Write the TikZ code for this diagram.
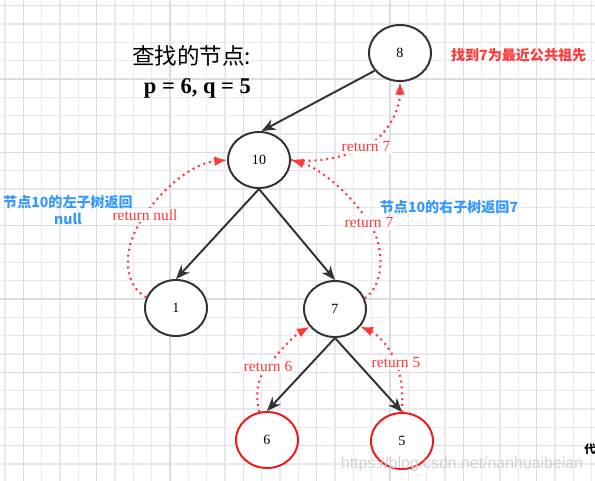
\documentclass[tikz,border=0pt]{standalone}
\usepackage{fontspec}
\setmainfont{Liberation Serif}
\setsansfont{Liberation Sans}
\newfontfamily\cjk{Noto Sans CJK SC}
\usetikzlibrary{arrows.meta, shapes.geometric}

\definecolor{linegray}{HTML}{333333}
\definecolor{retred}{HTML}{FF3838}
\definecolor{hitred}{HTML}{F21818}
\definecolor{noteblue}{HTML}{3399FF}
\definecolor{gridminor}{HTML}{E8E8EE}
\definecolor{gridmajor}{HTML}{DCDCE3}
\definecolor{markgray}{HTML}{D2D2D2}

\begin{document}
\begin{tikzpicture}[
            x = 0.025cm, y = -0.025cm, % one unit = one pixel of the sketch
            > = {Stealth[length=10pt,width=8pt]}, % arrow head style
            semithick % line style
        ]

        \tikzstyle{treenode}=[
            ellipse,
            draw = linegray,
            line width = 1.4pt,
            fill = white,
            minimum width = 1.55cm,
            minimum height = 1.4cm,
            font = \fontsize{10}{12}\selectfont
        ]
        \tikzstyle{found}=[treenode, draw = hitred]
        \tikzstyle{child}=[->, draw = linegray, line width = 1.4pt]
        \tikzstyle{ret}=[
            -{Latex[length=9pt,width=7pt]},
            draw = retred,
            line width = 1.5pt,
            dash pattern = on 1.4pt off 2.8pt
        ]
        \tikzstyle{retlabel}=[fill = white, text = retred, inner sep = 1pt, font = \fontsize{11}{13}\selectfont]
        \tikzstyle{note}=[text = noteblue, align = center, font = \cjk\bfseries\fontsize{10}{12}\selectfont]

        % paper and grid
        \useasboundingbox[fill = white] (0,0) rectangle (595,481);
        \foreach \i in {0,...,32} \draw[gridminor, line width = 0.75pt] ({5+18.333*\i},0) -- ++(0,481);
        \foreach \i in {0,...,26} \draw[gridminor, line width = 0.75pt] (0,{5.67+18.333*\i}) -- ++(595,0);
        \foreach \i in {0,...,7} \draw[gridmajor, line width = 1pt] ({23.33+73.33*\i},0) -- ++(0,481);
        \foreach \i in {0,...,6} \draw[gridmajor, line width = 1pt] (0,{5.67+73.33*\i}) -- ++(595,0);

	\node[treenode] (n8) at (400,53) {8};
	\node[treenode] (n10) at (259,160) {10};
	\node[treenode] (n1) at (176,308) {1};
	\node[treenode] (n7) at (335,309) {7};
	\node[found] (n6) at (267,440) {6};
	\node[found] (n5) at (402,441) {5};

	\draw[child] (n8.215) -- (n10.85);
	\draw[child] (n10.south) -- (n1.north);
	\draw[child] (n10.south) -- (n7.north);
	\draw[child] (n7.south) -- (n6.north);
	\draw[child] (n7.south) -- (n5.north);

	% returned values
	\coordinate (at108) at (366,147);
	\coordinate (at710) at (369,223);
	\coordinate (at110) at (145,215);
	\coordinate (at67) at (268,366);
	\coordinate (at57) at (396,363);

	\draw[ret] (n10.east) .. controls (320,163) and (345,157) .. (at108) .. controls (385,137) and (400,112) .. (n8.south);
	\draw[ret] (n7.20) .. controls (385,285) and (385,245) .. (at710) .. controls (352,195) and (320,168) .. (n10.east);
	\draw[ret] (n1.160) .. controls (122,285) and (122,245) .. (at110) .. controls (165,185) and (195,163) .. (n10.west);
	\draw[ret] (n6.105) .. controls (255,395) and (257,378) .. (at67) .. controls (280,350) and (295,335) .. (n7.215);
	\draw[ret] (n5.north) .. controls (403,395) and (402,378) .. (at57) .. controls (391,348) and (376,333) .. (n7.-35);

	\node[retlabel] (l108) at (at108) {return 7};
	\node[retlabel] (l710) at (at710) {return 7};
	\node[retlabel] (l110) at (at110) {return null};
	\node[retlabel] (l67) at (at67) {return 6};
	\node[retlabel] (l57) at (at57) {return 5};

	% notes
	\node[anchor = east, align = right, font = \bfseries\fontsize{16}{21}\selectfont] (title) at (256,72) {{\mdseries\cjk 查找的节点:}\\p = 6, q = 5};
	\node[anchor = west, text = retred, font = \cjk\bfseries\fontsize{10}{12}\selectfont] (answer) at (446,55) {找到7为最近公共祖先};
	\node[note] (leftnote) at (68,210) {节点10的左子树返回\\null};
	\node[note] (rightnote) at (449,207) {节点10的右子树返回7};

	\node[text = markgray, font = \sffamily\fontsize{11.3}{13}\selectfont] (mark) at (462,464) {https://blog.csdn.net/nanhuaibeian};
	\node[font = \cjk\bfseries\fontsize{8}{9}\selectfont, inner sep = 0pt] (cut) at (590,449) {代};

    \end{tikzpicture}
\end{document}
